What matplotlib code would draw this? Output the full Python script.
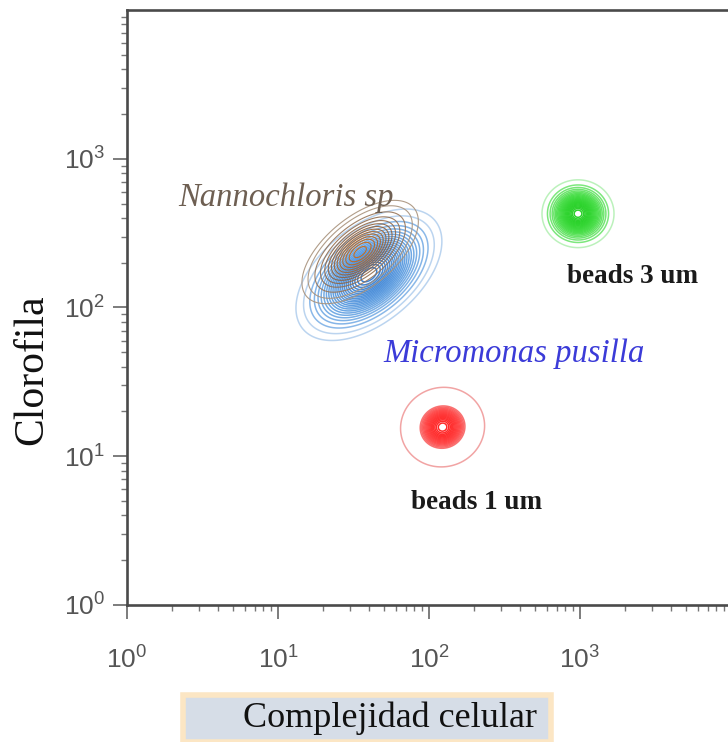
import numpy as np
import matplotlib
matplotlib.use('Agg')
from matplotlib import pylab as plt
from matplotlib.patches import Rectangle
from matplotlib.colors import LinearSegmentedColormap

# populations (centre in axis units, spread in decades)
names = ['Micromonas pusilla', 'Nannochloris sp', 'beads 3 um', 'beads 1 um']
center_x = [40.0, 35.0, 970, 123]
center_y = [166, 236, 427, 15.7]
sigma_major = [0.215, 0.175, 0.090, 0.10]
sigma_minor = [0.122, 0.088, 0.086, 0.095]
angle_deg = [40, 40, 0, 20]
outer_levels = [[0.03, 0.06], [0.03, 0.06], [0.03], [0.02]]
inner_from = [0.10, 0.12, 0.08, 0.33]
inner_count = [22, 12, 22, 16]
line_width = [1.1, 0.8, 1.1, 1.1]
colors = [('#b4d0ee', '#5a9ce0', '#2a76d0'), ('#a8927c', '#8a6040', '#d06a10'),
          ('#b4f0b4', '#40dd40', '#16cc16'), ('#f09a9a', '#ff4040', '#ff1010')]

# label text and positions
label_text = ['Nannochloris sp', 'Micromonas pusilla', 'beads 3 um', 'beads 1 um']
label_x = [2.18, 49.6, 820, 76]
label_y = [545, 48.9, 162, 4.89]
label_color = ['#6e5f52', '#3b3bd8', '#1a1a1a', '#1a1a1a']
label_style = ['italic', 'italic', 'normal', 'normal']
label_weight = ['normal', 'normal', 'bold', 'bold']
label_size = [23.5, 23.5, 19.5, 19.5]

x_ticks = [1, 10, 100, 1000]
y_ticks = [1, 10, 100, 1000]

plt.rcParams['font.family'] = ['Liberation Sans', 'DejaVu Sans']

fig = plt.figure(figsize=(7.28, 7.42), dpi=100)
ax = fig.add_axes([127 / 728, 137 / 742, 604 / 728, 595 / 742])

gx = np.linspace(0, 4, 600)
gy = np.linspace(0, 4, 600)
GX, GY = np.meshgrid(gx, gy)

for i in range(len(names)):
    t = np.deg2rad(angle_deg[i])
    dx = GX - np.log10(center_x[i])
    dy = GY - np.log10(center_y[i])
    u = dx * np.cos(t) + dy * np.sin(t)
    v = -dx * np.sin(t) + dy * np.cos(t)
    dens = np.exp(-0.5 * ((u / sigma_major[i]) ** 2 + (v / sigma_minor[i]) ** 2))
    cmap = LinearSegmentedColormap.from_list('c%d' % i, colors[i])
    lv = outer_levels[i] + list(np.linspace(inner_from[i], 0.96, inner_count[i]))
    cols = [cmap(0.0)] * len(outer_levels[i]) + \
           [cmap(0.3 + 0.7 * k / (inner_count[i] - 1)) for k in range(inner_count[i])]
    ax.contour(10 ** GX, 10 ** GY, dens, levels=lv, colors=cols,
               linewidths=line_width[i], alpha=0.9)

ax.set_xscale('log')
ax.set_yscale('log')
ax.set_xlim(1, 1e4)
ax.set_ylim(1, 1e4)
ax.set_xticks(x_ticks)
ax.set_yticks(y_ticks)

ax.spines['right'].set_visible(False)
for s in ['left', 'bottom', 'top']:
    ax.spines[s].set_color('#4a4a4a')
    ax.spines[s].set_linewidth(1.9)
ax.tick_params(axis='both', which='major', direction='out', length=10, width=1.2,
               color='#666666', labelsize=19, labelcolor='#555555')
ax.tick_params(axis='x', which='major', pad=20)
ax.tick_params(axis='y', which='major', pad=6)
ax.tick_params(which='minor', direction='out', length=4, width=1.0, color='#777777')

for i in range(len(label_text)):
    ax.text(label_x[i], label_y[i], label_text[i], color=label_color[i],
            fontsize=label_size[i], fontstyle=label_style[i], fontweight=label_weight[i],
            family='Liberation Serif', ha='left', va='center')

fig.patches.append(Rectangle((183 / 728, 0), 368 / 728, 47 / 742, transform=fig.transFigure,
                             facecolor='#d6dde7', edgecolor='#fce6c4', linewidth=4, zorder=0))
fig.text(390 / 728, 1 - 718 / 742, 'Complejidad celular', family='Liberation Serif',
         fontsize=26, color='#111111', ha='center', va='center')
fig.text(32 / 728, 1 - 370 / 742, 'Clorofila', family='Liberation Serif',
         fontsize=30, color='#111111', ha='center', va='center', rotation=90)

plt.savefig('out.png', dpi=100)
